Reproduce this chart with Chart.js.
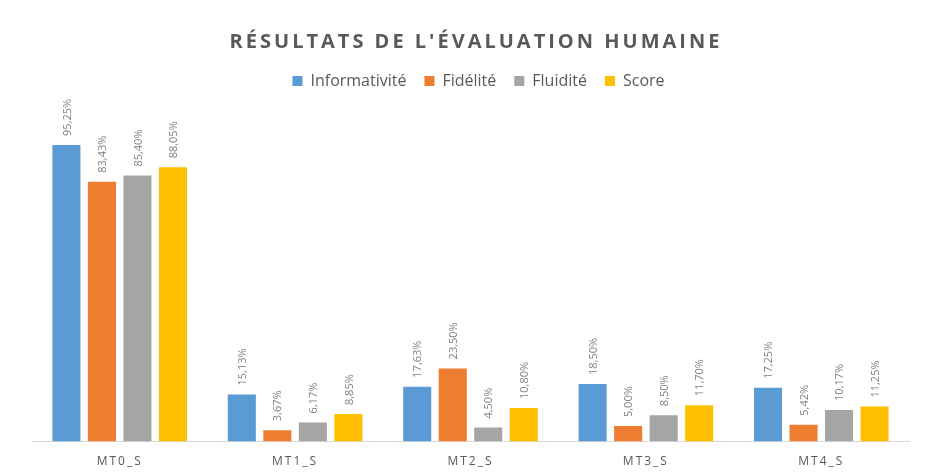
<!DOCTYPE html>
<html>
<head>
<meta charset="utf-8">
<script src="https://cdn.jsdelivr.net/npm/chart.js@4/dist/chart.umd.min.js"></script>
<style>
    html, body { margin: 0; padding: 0; background: #fff; }
    #wrap { width: 935px; height: 476px; }
</style>
</head>
<body>
<div id="wrap"><canvas id="evalChart" width="935" height="476"></canvas></div>
<script>
(function () {
    'use strict';

    const chartTitle = "RÉSULTATS DE L'ÉVALUATION HUMAINE";
    const categories = ['MT0_S', 'MT1_S', 'MT2_S', 'MT3_S', 'MT4_S'];
    const seriesNames = ['Informativité', 'Fidélité', 'Fluidité', 'Score'];
    const informativite = [95.25, 15.13, 17.63, 18.50, 17.25];
    const fidelite = [83.43, 3.67, 23.50, 5.00, 5.42];
    const fluidite = [85.40, 6.17, 4.50, 8.50, 10.17];
    const score = [88.05, 8.85, 10.80, 11.70, 11.25];
    const seriesColors = ['#5B9BD5', '#ED7D31', '#A5A5A5', '#FFC000'];

    const textColor = '#595959';
    const fontFamily = '"Open Sans", "DejaVu Sans", sans-serif';

    // French style percent, e.g. 95,25%
    function formatPct(v) {
        return v.toFixed(2).replace('.', ',') + '%';
    }

    // Rotated value labels above each bar, title and tick letter spacing
    const barLabels = {
        id: 'barLabels',
        afterLayout(chart) {
            // legend sits a bit right of the plot centre in the original
            chart.legend.left += 8;
            chart.legend.right += 8;
        },
        afterDatasetsDraw(chart) {
            const ctx = chart.ctx;
            ctx.save();
            ctx.font = '11px ' + fontFamily;
            ctx.fillStyle = '#7F7F7F';
            ctx.textAlign = 'left';
            ctx.textBaseline = 'middle';
            chart.data.datasets.forEach((ds, i) => {
                const meta = chart.getDatasetMeta(i);
                meta.data.forEach((bar, j) => {
                    ctx.save();
                    ctx.translate(bar.x + 1, bar.y - 9);
                    ctx.rotate(-Math.PI / 2);
                    ctx.fillText(formatPct(ds.data[j]), 0, 0);
                    ctx.restore();
                });
            });
            ctx.restore();
            // spaced lettering for the category ticks drawn next (ticks z = 1)
            ctx.letterSpacing = '2px';
        },
        afterDraw(chart) {
            const ctx = chart.ctx;
            ctx.save();
            ctx.letterSpacing = '3px';
            ctx.font = 'bold 20px ' + fontFamily;
            ctx.fillStyle = textColor;
            ctx.textAlign = 'center';
            ctx.textBaseline = 'middle';
            ctx.fillText(chartTitle, 476, 42);
            ctx.restore();
            ctx.letterSpacing = '0px';
        }
    };

    const seriesData = [informativite, fidelite, fluidite, score];
    const datasets = seriesNames.map((name, i) => ({
        label: name,
        data: seriesData[i],
        backgroundColor: seriesColors[i],
        borderWidth: 0,
        barPercentage: 0.79,
        categoryPercentage: 0.81
    }));

    new Chart(document.getElementById('evalChart').getContext('2d'), {
        type: 'bar',
        data: {
            labels: categories,
            datasets: datasets
        },
        options: {
            responsive: false,
            animation: false,
            layout: {
                padding: { top: 55, left: 32, right: 26, bottom: -6 }
            },
            scales: {
                x: {
                    grid: { display: false, drawTicks: false },
                    border: { display: true, color: '#D9D9D9', width: 1 },
                    ticks: {
                        color: textColor,
                        font: { family: fontFamily, size: 12 },
                        padding: 13,
                        z: 1
                    }
                },
                y: {
                    display: false,
                    min: 0,
                    max: 110
                }
            },
            plugins: {
                title: { display: false },
                tooltip: { enabled: false },
                legend: {
                    position: 'top',
                    labels: {
                        boxWidth: 10,
                        boxHeight: 10,
                        padding: 18,
                        color: textColor,
                        font: { family: fontFamily, size: 16 }
                    }
                }
            }
        },
        plugins: [barLabels]
    });
})();
</script>
</body>
</html>
